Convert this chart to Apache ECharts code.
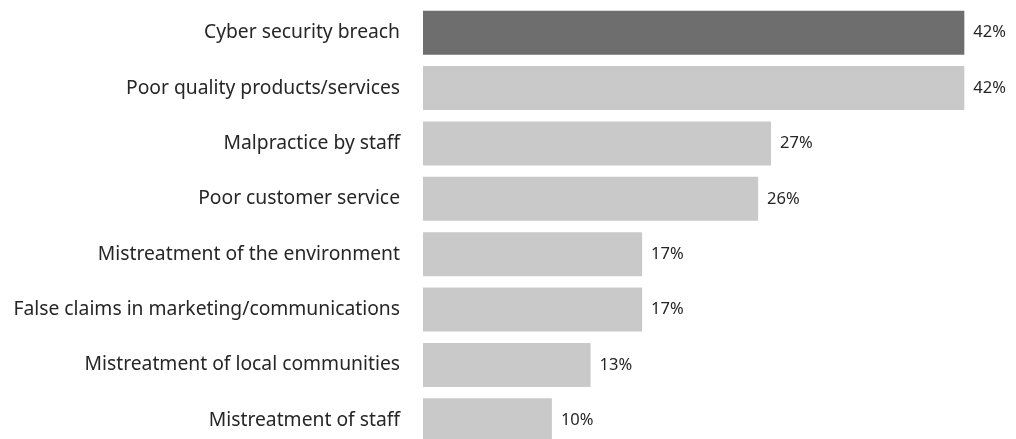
<!DOCTYPE html>
<html>
<head>
<meta charset="utf-8">
<script src="https://cdn.jsdelivr.net/npm/echarts@6/dist/echarts.min.js"></script>
<style>
  html, body { margin: 0; padding: 0; background: #ffffff; }
  #chart { width: 1016px; height: 439px; }
</style>
</head>
<body>
<div id="chart"></div>
<script>
// Share of respondents citing each issue as damaging to a company's reputation
const categories = [
  'Cyber security breach',
  'Poor quality products/services',
  'Malpractice by staff',
  'Poor customer service',
  'Mistreatment of the environment',
  'False claims in marketing/communications',
  'Mistreatment of local communities',
  'Mistreatment of staff'
];
const values = [42, 42, 27, 26, 17, 17, 13, 10];
const highlightIndex = 0;

const DARK = '#6e6e6e';
const LIGHT = '#c9c9c9';
const TEXT = '#262626';
const FONT = '"Noto Sans", "Open Sans", sans-serif';

const chart = echarts.init(document.getElementById('chart'), null, { renderer: 'canvas' });

chart.setOption({
  animation: false,
  // the last row runs past the bottom edge, so the grid is allowed to overflow
  grid: { left: 423, width: 580, top: 5, height: 443, containLabel: false, outerBoundsMode: 'none' },
  xAxis: {
    type: 'value',
    min: 0,
    max: 45,
    show: false
  },
  yAxis: {
    type: 'category',
    data: categories,
    inverse: true,
    axisLine: { show: false },
    axisTick: { show: false },
    splitLine: { show: false },
    axisLabel: {
      margin: 23,
      color: TEXT,
      fontSize: 19.3,
      fontFamily: FONT
    }
  },
  series: [{
    type: 'bar',
    barWidth: 44,
    data: values.map((v, i) => ({
      value: v,
      itemStyle: { color: i === highlightIndex ? DARK : LIGHT }
    })),
    label: {
      show: true,
      position: 'right',
      distance: 9,
      color: TEXT,
      fontSize: 16.5,
      fontFamily: FONT,
      formatter: p => p.value + '%'
    }
  }]
});
</script>
</body>
</html>
